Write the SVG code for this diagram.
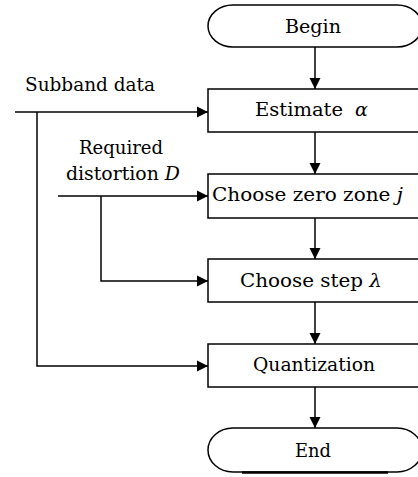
<svg xmlns="http://www.w3.org/2000/svg" width="418" height="477" viewBox="0 0 418 477">
<defs>
<marker id="arr" markerWidth="12" markerHeight="12" refX="11" refY="6" orient="auto" markerUnits="userSpaceOnUse">
<path d="M0,0.5 L11,6 L0,11.5 Z" fill="#000"/>
</marker>
<style>
.box{fill:#fff;stroke:#000;stroke-width:1.5}
.t{font-family:"DejaVu Serif","Liberation Serif",serif;font-size:19px;fill:#000}
.m{font-style:italic}
.ln{fill:none;stroke:#000;stroke-width:1.5}
</style>
</defs>
<rect width="418" height="477" fill="#fff"/>
<g id="connectors">
<path class="ln" d="M315,47 V89" marker-end="url(#arr)"/>
<path class="ln" d="M315,132 V174" marker-end="url(#arr)"/>
<path class="ln" d="M315,218 V259" marker-end="url(#arr)"/>
<path class="ln" d="M315,302 V344" marker-end="url(#arr)"/>
<path class="ln" d="M315,387 V428" marker-end="url(#arr)"/>
<path class="ln" d="M15,112 H208" marker-end="url(#arr)"/>
<path class="ln" d="M37,112 V366 H208" marker-end="url(#arr)"/>
<path class="ln" d="M58,196 H208" marker-end="url(#arr)"/>
<path class="ln" d="M101,196 V281 H208" marker-end="url(#arr)"/>
</g>
<g id="labels">
<text class="t" x="25" y="91" textLength="130" lengthAdjust="spacingAndGlyphs">Subband data</text>
<text class="t" x="79" y="154" textLength="84" lengthAdjust="spacingAndGlyphs">Required</text>
<text class="t" x="66" y="180" textLength="114" lengthAdjust="spacingAndGlyphs">distortion <tspan class="m">D</tspan></text>
</g>
<g id="begin">
<path class="box" d="M233,5 H397 A25,21 0 0 1 397,47 H233 A25,21 0 0 1 233,5 Z"/>
<text class="t" x="285" y="33" textLength="56" lengthAdjust="spacingAndGlyphs">Begin</text>
</g>
<g id="estimate">
<rect class="box" x="208" y="89" width="214" height="43"/>
<text class="t" x="255" y="116" textLength="88" lengthAdjust="spacingAndGlyphs">Estimate</text>
<text class="t m" x="355" y="116">α</text>
</g>
<g id="zerozone">
<rect class="box" x="208" y="174" width="214" height="44"/>
<text class="t" x="212" y="201" textLength="191" lengthAdjust="spacingAndGlyphs">Choose zero zone <tspan class="m">j</tspan></text>
</g>
<g id="step">
<rect class="box" x="208" y="259" width="214" height="43"/>
<text class="t" x="240" y="287" textLength="142" lengthAdjust="spacingAndGlyphs">Choose step <tspan class="m">λ</tspan></text>
</g>
<g id="quant">
<rect class="box" x="208" y="344" width="214" height="43"/>
<text class="t" x="253" y="371" textLength="122" lengthAdjust="spacingAndGlyphs">Quantization</text>
</g>
<g id="end">
<path class="box" d="M233,428 H397 A25,22 0 0 1 397,472 H233 A25,22 0 0 1 233,428 Z"/>
<path d="M242,472.5 H388" stroke="#000" stroke-width="2.5"/>
<text class="t" x="295" y="457" textLength="36" lengthAdjust="spacingAndGlyphs">End</text>
</g>
</svg>
